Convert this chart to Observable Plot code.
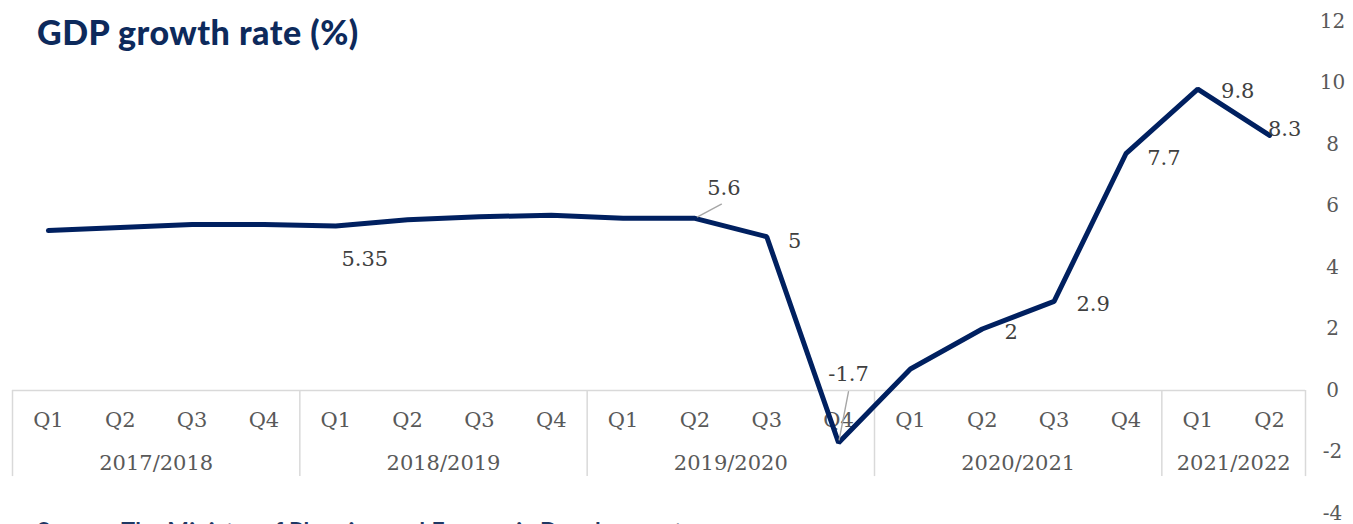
<!DOCTYPE html>
<html><head><meta charset="utf-8">
<script src="https://cdn.jsdelivr.net/npm/d3@7"></script>
<script src="https://cdn.jsdelivr.net/npm/@observablehq/plot@0.6"></script>
<style>
html,body{margin:0;padding:0;background:#fff;overflow:hidden;width:1353px;height:524px}
#wrap{position:relative;width:1353px;height:524px}
#title{position:absolute;left:37px;top:11px;font-family:Lato,sans-serif;font-weight:900;font-size:34px;letter-spacing:0.5px;color:#0d2a5c;white-space:nowrap}
#caption{position:absolute;left:37px;top:516px;font-family:Lato,sans-serif;font-weight:700;font-size:23px;letter-spacing:0.4px;color:#1f3864;white-space:nowrap}
</style></head>
<body><div id="wrap"><div id="chart"></div>
<div id="title">GDP growth rate (%)</div>
<div id="caption">Source: The Ministry of Planning and Economic Development</div>
</div>
<script>
const years = ["2017/2018","2018/2019","2019/2020","2020/2021","2021/2022"];
const quartersPerYear = [4,4,4,4,2];
const quarterNames = ["Q1","Q2","Q3","Q4"];
const growth = [5.2,5.3,5.4,5.4,5.35,5.55,5.65,5.7,5.6,5.6,5.0,-1.7,0.7,2.0,2.9,7.7,9.8,8.3];
const labelText = [null,null,null,null,"5.35",null,null,null,null,"5.6","5","-1.7",null,"2","2.9","7.7","9.8","8.3"];
const yTicks = [-4,-2,0,2,4,6,8,10,12];

// build table
const rows = [];
const yearSpans = [];
let idx = 0;
years.forEach((yr, k) => {
  const start = idx;
  for (let q = 0; q < quartersPerYear[k]; q++) {
    rows.push({i: idx, quarter: quarterNames[q], year: yr, value: growth[idx], label: labelText[idx]});
    idx++;
  }
  yearSpans.push({year: yr, start: start - 0.5, end: idx - 0.5, mid: (start + idx - 1) / 2});
});
const separators = [yearSpans[0].start, ...yearSpans.map(d => d.end)];

// label placement (pixels)
const labelOffsets = {4:[29,33], 9:[29,-30], 10:[28,5], 11:[10,-69], 13:[29,3], 14:[39,3], 15:[38,5], 16:[40,2], 17:[15,-6]};
const leaders = [{i:9, length:30, rotate:62}, {i:11, length:52, rotate:11}];

const navy = "#002060";
const labelMarks = rows.filter(d => d.label).map(d =>
  Plot.text([d], {x: "i", y: "value", text: "label", dx: labelOffsets[d.i][0], dy: labelOffsets[d.i][1],
    fill: "#404040", fontSize: 21, textAnchor: "middle"}));
const leaderMarks = leaders.map(d =>
  Plot.vector([d], {x: "i", y: () => growth[d.i], length: d.length, rotate: d.rotate, anchor: "start",
    stroke: "#a6a6a6", strokeWidth: 1.4,
    shape: {draw(ctx, l) { ctx.moveTo(0, -3); ctx.lineTo(0, -l); }}}));

const chart = Plot.plot({
  width: 1353, height: 524,
  marginTop: 21, marginBottom: 11, marginLeft: 12, marginRight: 48,
  style: {fontFamily: "'DejaVu Serif', Georgia, serif", background: "#fff"},
  x: {type: "linear", domain: [-0.5, 17.5], axis: null},
  y: {domain: [-4, 12], axis: null},
  marks: [
    Plot.ruleY([0], {stroke: "#d9d9d9", strokeWidth: 1.5}),
    Plot.ruleX(separators, {y1: 0, y2: -2.8, stroke: "#d9d9d9", strokeWidth: 1.5}),
    Plot.text(rows, {x: "i", y: -0.97, text: "quarter", fill: "#595959", fontSize: 21}),
    Plot.text(yearSpans, {x: "mid", y: -2.37, text: "year", fill: "#595959", fontSize: 21}),
    Plot.line(rows, {x: "i", y: "value", stroke: navy, strokeWidth: 5, strokeLinejoin: "miter", strokeLinecap: "round"}),
    ...leaderMarks,
    ...labelMarks,
    Plot.axisY(yTicks, {anchor: "right", label: null, tickSize: 0, tickPadding: 27, textAnchor: "middle",
      fontSize: 20, fill: "#595959", tickFormat: d => String(d)})
  ]
});
document.getElementById("chart").appendChild(chart);
</script>
</body></html>
